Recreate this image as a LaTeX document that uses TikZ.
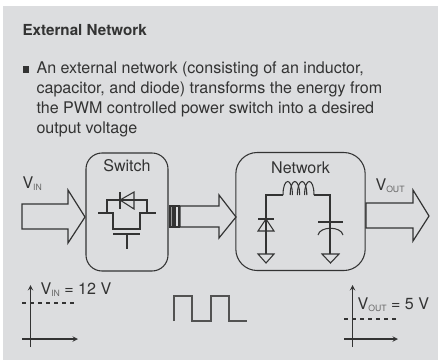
\documentclass[tikz,border=0pt]{standalone}
\usepackage{fontspec}
\setmainfont{TeX Gyre Heros}
\definecolor{panelgray}{HTML}{DCDDDF}
\definecolor{inkgray}{HTML}{333333}
\newcommand{\volt}[1]{V\raisebox{-2pt}{\fontsize{6.5}{7}\selectfont\color{inkgray!75}#1}}
\begin{document}
\begin{tikzpicture}[
x=0.75pt,y=-0.75pt,
line width=0.8pt,
every node/.style={text=inkgray,inner sep=0pt},
txt/.style={anchor=base west,font=\fontsize{12.05}{15}\selectfont},
block/.style={draw=inkgray,rounded corners=12pt,minimum width=61.5pt,minimum height=88.5pt},
fatarrow/.style={draw=inkgray,line width=0.9pt,line join=miter},
part/.style={draw=inkgray,line width=0.8pt},
wave/.style={draw=inkgray!85,line width=1pt}
]
\useasboundingbox (0,0) rectangle (438,361);
\fill[panelgray] (3,6) rectangle (438,360);

\node[txt,font=\fontsize{11.4}{12}\selectfont\bfseries] (title) at (22,35) {External Network};
\node[fill=inkgray,minimum size=4.6pt] (bullet) at (25.7,69.5) {};
\node[txt] (line1) at (36,73) {An external network (consisting of an inductor,};
\node[txt] (line2) at (36,93) {capacitor, and diode) transforms the energy from};
\node[txt] (line3) at (36,113) {the PWM controlled power switch into a desired};
\node[txt] (line4) at (36,133) {output voltage};

\node[block] (switch) at (127,212) {};
\node[block,rounded corners=16pt,minimum width=97pt] (network) at (300.5,211.5) {};
\node[txt,anchor=base] (switchlabel) at (127,171) {Switch};
\node[txt,anchor=base] (networklabel) at (300.5,173) {Network};

\node[txt] (vinlabel) at (22,188) {\volt{IN}};
\node[txt] (voutlabel) at (375,190) {\volt{OUT}};

\draw[fatarrow] (22,204) -- (68,204) -- (68,190) -- (85,217) -- (68,243) -- (68,229) -- (22,229) -- cycle;
\draw[fatarrow] (180,206) -- (219,206) -- (219,195) -- (236,217) -- (219,238) -- (219,227) -- (180,227) -- cycle;
\draw[fatarrow] (366,203) -- (413,203) -- (413,190) -- (429,216) -- (413,241) -- (413,228) -- (366,228) -- cycle;
\draw[part,fill=inkgray!50] (170,206) rectangle (173,227);
\draw[part] (175,206) rectangle (179,227);

\draw[part] (107,213) -- (107,200) -- (147,200) -- (147,213);
\draw[part] (134,192) -- (120,200) -- (134,209) -- cycle;
\draw[part] (120,192) -- (120,209);
\draw[part] (98,213) -- (113,213) -- (113,229) -- (140,229) -- (140,213) -- (156,213);
\draw[part] (113,234) -- (140,234);
\draw[part] (127,234) -- (127,249);

\draw[part] (266,254) -- (266,195) -- (283,195);
\foreach \i in {283,290.2,297.4,304.6} {
    \draw[part] (\i,195) .. controls (\i,177) and (\i+9.4,177) .. (\i+9.4,195);
}
\draw[part] (314,195) -- (330,195) -- (330,254);
\draw[part] (258,219) -- (274,219);
\draw[part] (266,219) -- (258,231) -- (274,231) -- cycle;
\draw[part] (258,254) -- (274,254) -- (266,263) -- cycle;
\draw[part] (318,222) -- (343,222);
\draw[part] (318,235) .. controls (320,226) and (341,226) .. (343,235);
\draw[part] (322,254) -- (339,254) -- (330.5,263) -- cycle;

\draw[part,-stealth] (30.5,347) -- (30.5,285);
\draw[part,-stealth] (22,339) -- (78,339);
\draw[part,dashed] (22,303) -- (75,303);
\node[txt] (vinvalue) at (40,294) {\volt{IN} = 12 V};

\draw[wave] (174,321) -- (174,296) -- (192,296) -- (192,321) -- (211,321) -- (211,296) -- (229,296) -- (229,321) -- (247,321);

\draw[part,-stealth] (352.5,347) -- (352.5,285);
\draw[part,-stealth] (344,339) -- (398,339);
\draw[part,dashed] (344,319) -- (397,319);
\node[txt] (voutvalue) at (357,309) {\volt{OUT} = 5 V};
\end{tikzpicture}
\end{document}
